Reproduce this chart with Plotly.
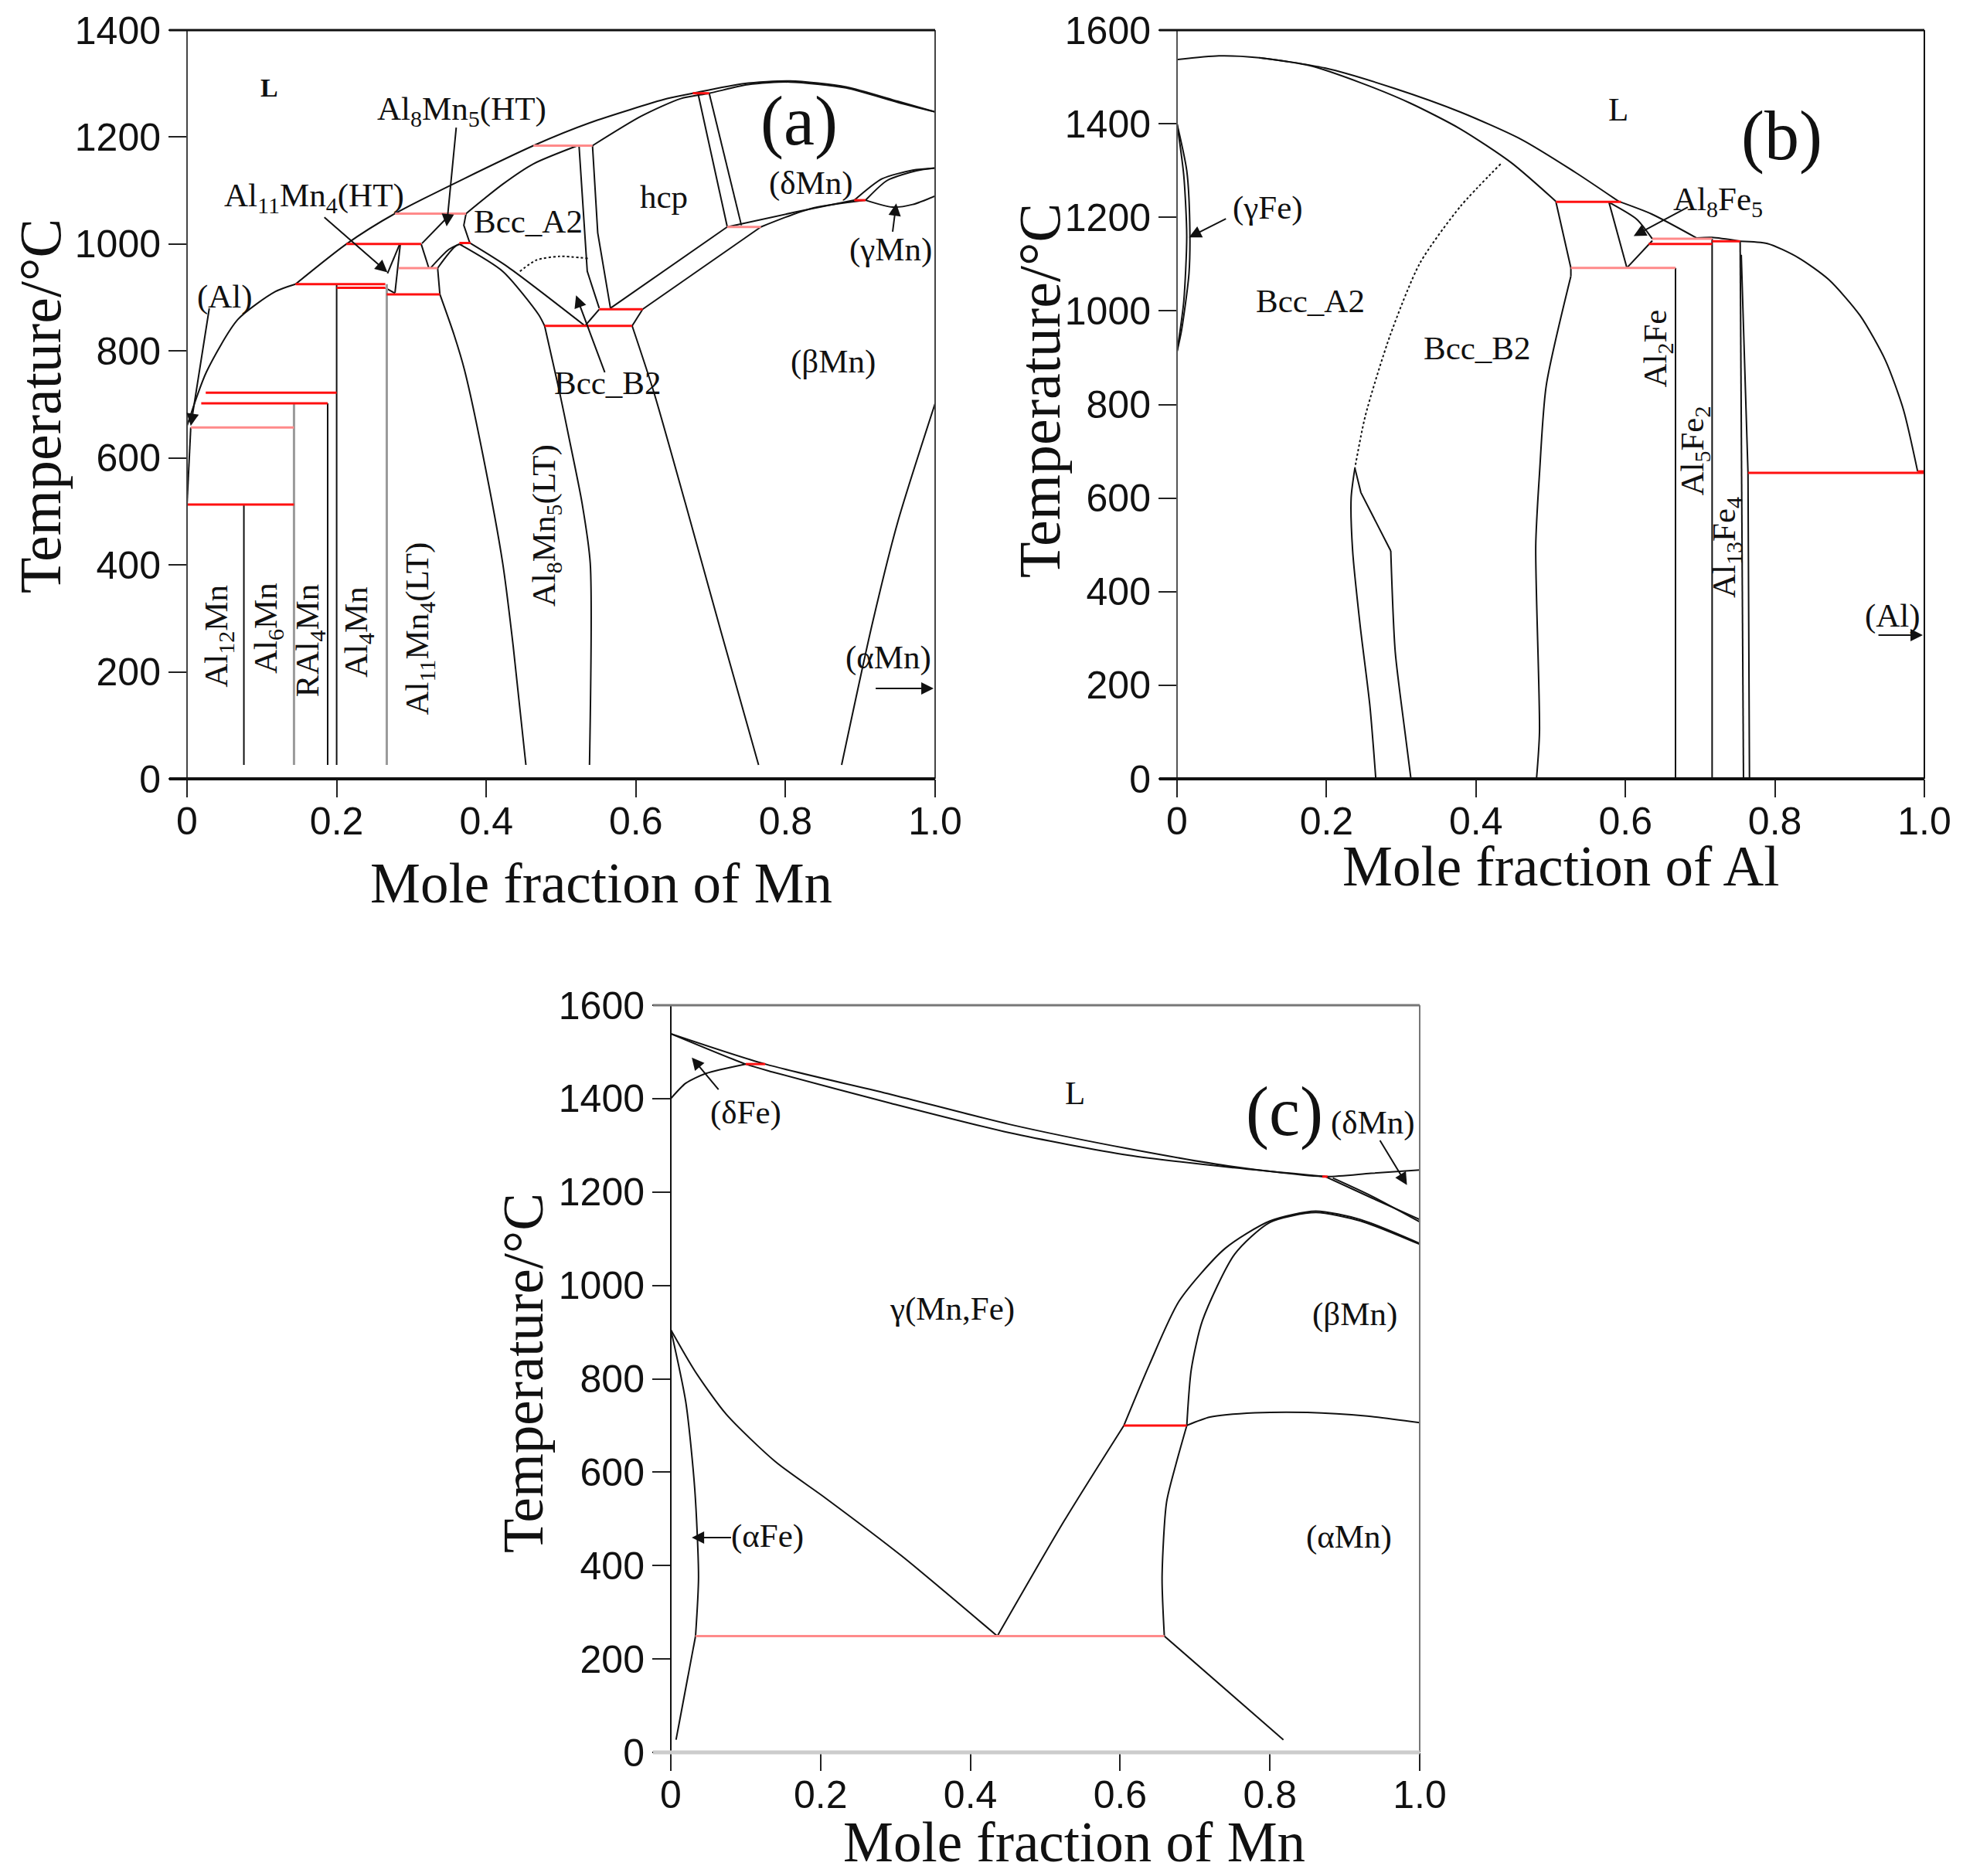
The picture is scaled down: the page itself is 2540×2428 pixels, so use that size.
import plotly.graph_objects as go

BLACK = '#111111'
GREY = '#9a9a9a'
RED = '#ff1010'
PINK = '#ff8a8a'
SERIF = 'Liberation Serif'
SANS = 'Liberation Sans'

x_ticks = [0, 0.2, 0.4, 0.6, 0.8, 1.0]
x_labels = ['0', '0.2', '0.4', '0.6', '0.8', '1.0']

# ---- panel (a) Al-Mn, each curve is x list then T list
a_liq_left = ([0, .026, .068, .118, .145], [660, 761, 859, 911, 925])
a_liq_main = ([.145, .213, .278, .463, .539, .642, .676, .744, .806, .881, .95, 1], [925, 1000, 1057, 1184, 1227, 1272, 1282, 1300, 1305, 1294, 1267, 1247])
a_sol_a2 = ([.373, .422, .463, .522], [1057, 1112, 1150, 1184])
a_sol_hcp = ([.542, .607, .66, .698, .75, .806, .881, .95, 1], [1184, 1239, 1272, 1282, 1298, 1303, 1292, 1265, 1247])
a_hcp_l = ([.524, .535, .551], [1184, 949, 880])
a_hcp_r = ([.542, .549, .566], [1184, 1021, 880])
a_b2_l = ([.551, .532], [878, 847])
a_b2_r = ([.609, .595], [878, 847])
a_band_l = ([.566, .722], [880, 1032])
a_band_r = ([.609, .767], [878, 1032])
a_delta_l = ([.722, .814, .892], [1032, 1060, 1082])
a_delta_r = ([.767, .833, .907], [1032, 1066, 1082])
a_hcp2_l = ([.683, .722], [1282, 1033])
a_hcp2_r = ([.698, .741], [1282, 1035])
a_gam_1 = ([.892, .929, .97, 1], [1082, 1122, 1138, 1142])
a_gam_2 = ([.907, .936, .975, 1], [1082, 1119, 1137, 1142])
a_gam_3 = ([.907, .943, .97, 1], [1082, 1069, 1074, 1090])
a_a2_edge = ([.373, .37, .378], [1057, 1035, 1002])
a_diag_1 = ([.378, .429, .532], [1002, 957, 847])
a_diag_2 = ([.364, .422, .47, .478], [1000, 949, 868, 847])
a_low_1 = ([.338, .357, .371, .395, .422, .436, .453], [906, 830, 764, 609, 403, 248, 26])
a_low_2 = ([.478, .498, .511, .528, .539, .538], [847, 723, 635, 516, 403, 26])
a_low_3 = ([.595, .624, .666, .714, .764], [847, 723, 516, 274, 26])
a_alpha = ([.875, .916, .95, 1], [26, 290, 480, 702])
a_s1 = ([.313, .323], [1000, 956])
a_s2 = ([.335, .338], [955, 906])
a_s3 = ([.326, .35, .364], [956, 990, 1000])
a_s4 = ([.335, .36, .379], [955, 997, 1003])
a_s5 = ([.314, .348], [1001, 1050])
a_s6 = ([.285, .278], [999, 909])
a_s7 = ([.284, .268], [999, 945])
a_s8 = ([.265, .278], [918, 908])
a_al_edge = ([0, .005], [513, 657])
a_dots = ([.445, .467, .498, .536], [949, 970, 977, 973])
a_straight = [a_hcp_l, a_hcp_r, a_b2_l, a_b2_r, a_band_l, a_band_r, a_hcp2_l, a_hcp2_r, a_a2_edge, a_s1, a_s2, a_s5, a_s6, a_s7, a_s8, a_al_edge]
a_smooth = [a_liq_left, a_liq_main, a_sol_a2, a_sol_hcp, a_delta_l, a_delta_r, a_gam_1, a_gam_2, a_gam_3, a_diag_1, a_diag_2,
            a_low_1, a_low_2, a_low_3, a_alpha, a_s3, a_s4]
# compounds: x, top T, bottom T
a_black_x = [.076, .188, .2]
a_black_top = [513, 702, 925]
a_black_low = [26, 26, 26]
a_grey_x = [.143, .267]
a_grey_top = [702, 925]
a_grey_low = [26, 26]
# invariant lines: x from, x to, T
a_red_from = [.145, .2, .213, .267, .478, .551, .364, .676, .892, .025, .019, 0]
a_red_to = [.265, .265, .313, .338, .595, .609, .379, .698, .907, .2, .188, .143]
a_red_t = [925, 918, 1000, 906, 847, 878, 1002, 1282, 1082, 722, 702, 513]
a_pink_from = [.278, .463, .722, .283, .005]
a_pink_to = [.373, .542, .767, .335, .143]
a_pink_t = [1057, 1184, 1032, 955, 657]

# ---- panel (b) Fe-Al
b_liq_1 = ([0, .056, .11, .198, .292, .379, .46, .534, .591], [1537, 1545, 1541, 1519, 1475, 1425, 1367, 1295, 1234])
b_liq_2 = ([.591, .635, .695], [1234, 1207, 1156])
b_liq_3 = ([.695, .716, .7535], [1156, 1157, 1149])
b_liq_4 = ([.7535, .79, .831, .872, .914, .948, .972, .991], [1149, 1144, 1114, 1067, 990, 894, 789, 657])
b_sol = ([.11, .178, .245, .312, .379, .447, .507], [1541, 1524, 1488, 1444, 1389, 1317, 1234])
b_b2_1 = ([.507, .527, .527], [1233, 1092, 1074])
b_b2_2 = ([.527, .494, .485, .48, .485, .481], [1074, 840, 652, 498, 100, 0])
b_fe5_1 = ([.578, .602], [1232, 1092])
b_fe5_2 = ([.602, .636], [1092, 1150])
b_fe5_3 = ([.578, .615, .636], [1232, 1196, 1154])
b_loop_l = ([.238, .233, .235, .245, .258, .266], [664, 601, 487, 328, 157, 0])
b_loop_r1 = ([.238, .246, .286], [664, 612, 487])
b_loop_r2 = ([.286, .292, .305, .313], [487, 271, 100, 0])
b_gam_o = ([0, .013, .017, .016, .006, 0], [1400, 1300, 1190, 1080, 958, 913])
b_gam_i = ([0, .009, .013, .009, 0], [1400, 1290, 1160, 1020, 913])
b_fe4_l = ([.7535, .758], [1149, 0])
b_fe4_r = ([.755, .764, .766], [1120, 654, 0])
b_straight = [b_b2_1, b_fe5_1, b_fe5_2, b_loop_r1, b_fe4_l, b_fe4_r]
b_smooth = [b_liq_1, b_liq_2, b_liq_3, b_liq_4, b_sol, b_b2_2, b_fe5_3, b_loop_l, b_loop_r2, b_gam_o, b_gam_i]
b_dots = ([.433, .379, .325, .285, .252, .238], [1314, 1223, 1102, 947, 776, 664])
b_black_x = [.667, .716]
b_black_top = [1092, 1154]
b_black_low = [0, 0]
b_red_from = [.507, .631, .716, .764, .991]
b_red_to = [.594, .716, .7535, 1, 1]
b_red_t = [1233, 1143, 1149, 654, 657]
b_pink_from = [.527, .636]
b_pink_to = [.667, .716]
b_pink_t = [1092, 1154]

# ---- panel (c) Fe-Mn
c_liq = ([0, .126, .294, .452, .61, .752, .874, .935, 1], [1539, 1474, 1409, 1345, 1293, 1254, 1233, 1240, 1247])
c_sol = ([0, .1, .136, .294, .452, .61, .752, .874], [1539, 1474, 1457, 1390, 1327, 1279, 1252, 1233])
c_dfe = ([0, .02, .047, .1], [1400, 1433, 1454, 1474])
c_dmn_1 = ([.874, .935, 1], [1233, 1188, 1141])
c_dmn_2 = ([.884, .935, 1], [1230, 1192, 1136])
c_beta_o = ([.605, .639, .679, .74, .8, .861, .921, 1], [700, 830, 967, 1079, 1138, 1159, 1141, 1090])
c_beta_i = ([.689, .695, .71, .753, .8, .861, .921, 1], [700, 820, 925, 1067, 1135, 1156, 1138, 1088])
c_amn_top = ([.689, .72, .78, .85, .93, 1], [700, 718, 727, 728, 720, 706])
c_amn_l = ([.689, .675, .662, .656, .659], [700, 620, 536, 375, 249])
c_amn_low = ([.659, .818], [249, 27])
c_ga_1 = ([0, .032, .074, .14, .207, .308, .436], [905, 817, 724, 622, 544, 421, 249])
c_ga_2 = ([.436, .525, .605], [249, 495, 700])
c_afe_1 = ([0, .02, .032, .037, .033], [905, 750, 563, 375, 249])
c_afe_2 = ([.033, .007], [249, 27])
c_straight = [c_amn_low, c_afe_2]
c_smooth = [c_liq, c_sol, c_dfe, c_dmn_1, c_dmn_2, c_beta_o, c_beta_i, c_amn_top, c_amn_l, c_ga_1, c_ga_2, c_afe_1]
c_red_from = [.1, .605, .87]
c_red_to = [.126, .689, .877]
c_red_t = [1474, 700, 1233]
c_pink_from = [.033]
c_pink_to = [.659]
c_pink_t = [249]

# text labels: text, x, T, size, angle
a_labels = [('<b>L</b>', .11, 1292, 34, 0), ('Al<sub>8</sub>Mn<sub>5</sub>(HT)', .367, 1248, 43, 0), ('Al<sub>11</sub>Mn<sub>4</sub>(HT)', .17, 1086, 43, 0),
            ('(Al)', .051, 901, 43, 0), ('Bcc_A2', .456, 1042, 43, 0), ('hcp', .637, 1089, 43, 0), ('(a)', .818, 1229, 90, 0),
            ('(δMn)', .834, 1114, 43, 0), ('(γMn)', .941, 990, 43, 0), ('(βMn)', .864, 780, 43, 0), ('Bcc_B2', .562, 740, 43, 0),
            ('(αMn)', .938, 227, 43, 0), ('Al<sub>12</sub>Mn', .043, 267, 43, -90), ('Al<sub>6</sub>Mn', .108, 281, 43, -90),
            ('RAl<sub>4</sub>Mn', .165, 258, 43, -90), ('Al<sub>4</sub>Mn', .23, 274, 43, -90), ('Al<sub>11</sub>Mn<sub>4</sub>(LT)', .31, 281, 43, -90),
            ('Al<sub>8</sub>Mn<sub>5</sub>(LT)', .48, 473, 43, -90)]
b_labels = [('L', .59, 1431, 43, 0), ('(b)', .809, 1373, 90, 0), ('(γFe)', .122, 1220, 43, 0), ('Al<sub>8</sub>Fe<sub>5</sub>', .724, 1233, 43, 0),
            ('Bcc_A2', .178, 1022, 43, 0), ('Bcc_B2', .402, 920, 43, 0), ('Al<sub>2</sub>Fe', .643, 920, 43, -90),
            ('Al<sub>5</sub>Fe<sub>2</sub>', .693, 701, 43, -90), ('Al<sub>13</sub>Fe<sub>4</sub>', .735, 495, 43, -90), ('(Al)', .958, 348, 43, 0)]
c_labels = [('(δFe)', .1, 1370, 43, 0), ('L', .54, 1412, 43, 0), ('(c)', .819, 1372, 90, 0), ('(δMn)', .938, 1348, 43, 0),
            ('γ(Mn,Fe)', .376, 949, 43, 0), ('(βMn)', .913, 938, 43, 0), ('(αFe)', .129, 464, 43, 0), ('(αMn)', .906, 461, 43, 0)]

# arrows: tail x, tail T, head x, head T
a_arrows = [(.03, 882, .005, 660), (.36, 1220, .347, 1033), (.182, 1052, .268, 947), (.559, 758, .52, 904), (.943, 1021, .948, 1076), (.919, 169, .998, 169)]
b_arrows = [(.067, 1198, .016, 1157), (.685, 1223, .611, 1160), (.937, 307, .998, 307)]
c_arrows = [(.065, 1417, .028, 1488), (.946, 1313, .983, 1215), (.082, 460, .028, 460)]

fig = go.Figure()


def add_curve(curve, ax, color=BLACK, width=2, dash=None, shape='linear'):
    fig.add_trace(go.Scatter(x=curve[0], y=curve[1], mode='lines', xaxis=ax[0], yaxis=ax[1], showlegend=False,
                             line=dict(color=color, width=width, dash=dash, shape=shape, smoothing=0.7)))


def add_hlines(x0, x1, t, ax, color, width=3):
    for a, b, c in zip(x0, x1, t):
        add_curve(([a, b], [c, c]), ax, color, width)


def add_vlines(x, top, low, ax, color, width=2):
    for a, b, c in zip(x, top, low):
        add_curve(([a, a], [b, c]), ax, color, width)


def add_notes(labels, arrows, ax):
    for text, x, t, size, angle in labels:
        fig.add_annotation(x=x, y=t, xref=ax[0], yref=ax[1], text=text, showarrow=False, textangle=angle,
                           xanchor='center', yanchor='middle', font=dict(family=SERIF, size=size, color=BLACK))
    for x0, t0, x1, t1 in arrows:
        fig.add_annotation(x=x1, y=t1, ax=x0, ay=t0, xref=ax[0], yref=ax[1], axref=ax[0], ayref=ax[1], text='',
                           showarrow=True, arrowhead=2, arrowsize=1.6, arrowwidth=2, arrowcolor=BLACK)


# panel frame, each side has its own weight in the scan
def add_frame(ax, left, right, top, bottom):
    xr = ax[0] + ' domain'
    yr = ax[1] + ' domain'
    overhang = -23 / 968
    fig.add_shape(type='line', xref=xr, yref=yr, x0=0, x1=0, y0=0, y1=1, line=dict(color=left[0], width=left[1]), layer='above')
    fig.add_shape(type='line', xref=xr, yref=yr, x0=1, x1=1, y0=0, y1=1, line=dict(color=right[0], width=right[1]), layer='above')
    fig.add_shape(type='line', xref=xr, yref=yr, x0=overhang, x1=1, y0=1, y1=1, line=dict(color=top[0], width=top[1]), layer='above')
    fig.add_shape(type='line', xref=xr, yref=yr, x0=overhang, x1=1, y0=0, y1=0, line=dict(color=bottom[0], width=bottom[1]), layer='above')


ax_a = ('x', 'y')
ax_b = ('x2', 'y2')
ax_c = ('x3', 'y3')

for c in a_straight:
    add_curve(c, ax_a)
for c in a_smooth:
    add_curve(c, ax_a, shape='spline')
add_curve(a_dots, ax_a, BLACK, 2, 'dot', 'spline')
add_vlines(a_black_x, a_black_top, a_black_low, ax_a, BLACK)
add_vlines(a_grey_x, a_grey_top, a_grey_low, ax_a, GREY, 3)
add_hlines(a_pink_from, a_pink_to, a_pink_t, ax_a, PINK)
add_hlines(a_red_from, a_red_to, a_red_t, ax_a, RED)
add_notes(a_labels, a_arrows, ax_a)
add_frame(ax_a, ('#444444', 2), ('#444444', 2), (BLACK, 3), (BLACK, 4))

for c in b_straight:
    add_curve(c, ax_b)
for c in b_smooth:
    add_curve(c, ax_b, shape='spline')
add_curve(b_dots, ax_b, BLACK, 2, 'dot', 'spline')
add_vlines(b_black_x, b_black_top, b_black_low, ax_b, BLACK)
add_hlines(b_pink_from, b_pink_to, b_pink_t, ax_b, PINK)
add_hlines(b_red_from, b_red_to, b_red_t, ax_b, RED)
add_notes(b_labels, b_arrows, ax_b)
add_frame(ax_b, ('#555555', 2), (BLACK, 2), (BLACK, 3), (BLACK, 4))

for c in c_straight:
    add_curve(c, ax_c)
for c in c_smooth:
    add_curve(c, ax_c, shape='spline')
add_hlines(c_pink_from, c_pink_to, c_pink_t, ax_c, PINK)
add_hlines(c_red_from, c_red_to, c_red_t, ax_c, RED)
add_notes(c_labels, c_arrows, ax_c)
add_frame(ax_c, (BLACK, 2), ('#777777', 2), ('#777777', 3), ('#cccccc', 5))


def x_axis(domain, anchor):
    return dict(domain=domain, anchor=anchor, range=[0, 1], tickvals=x_ticks, ticktext=x_labels, ticks='outside', ticklen=23,
                tickwidth=2, tickcolor='#222222', showline=False, showgrid=False, zeroline=False, automargin=False,
                ticklabelstandoff=-12, tickfont=dict(family=SANS, size=50, color=BLACK))


def y_axis(domain, anchor, top):
    return dict(domain=domain, anchor=anchor, range=[0, top], dtick=200, ticks='outside', ticklen=23, automargin=False,
                tickwidth=2, tickcolor='#222222', showline=False, showgrid=False, zeroline=False,
                tickfont=dict(family=SANS, size=50, color=BLACK))


W, H = 2540, 2428
fig.update_layout(
    width=W, height=H, margin=dict(l=0, r=0, t=0, b=0, autoexpand=False), plot_bgcolor='white', paper_bgcolor='white', showlegend=False,
    xaxis=x_axis([242 / W, 1210 / W], 'y'),
    yaxis=y_axis([1 - 1008 / H, 1 - 39 / H], 'x', 1400),
    xaxis2=x_axis([1523 / W, 2490 / W], 'y2'),
    yaxis2=y_axis([1 - 1008 / H, 1 - 39 / H], 'x2', 1600),
    xaxis3=x_axis([868 / W, 1837 / W], 'y3'),
    yaxis3=y_axis([1 - 2268 / H, 1 - 1301 / H], 'x3', 1600),
)

# axis titles sit at fixed places on the page
x_titles = ['Mole fraction of Mn', 'Mole fraction of Al', 'Mole fraction of Mn']
x_title_cx = [778, 2020, 1390]
x_title_cy = [1144, 1121, 2384]
y_title_cx = [52, 1345, 677]
y_title_cy = [526, 505, 1777]
y_title_size = [76, 76, 73]
for text, cx, cy in zip(x_titles, x_title_cx, x_title_cy):
    fig.add_annotation(xref='paper', yref='paper', x=cx / W, y=1 - cy / H, text=text, showarrow=False,
                       xanchor='center', yanchor='middle', font=dict(family=SERIF, size=73, color=BLACK))
for cx, cy, size in zip(y_title_cx, y_title_cy, y_title_size):
    fig.add_annotation(xref='paper', yref='paper', x=cx / W, y=1 - cy / H, text='Temperature/°C', showarrow=False, textangle=-90,
                       xanchor='center', yanchor='middle', font=dict(family=SERIF, size=size, color=BLACK))

fig.write_html("out.html", config={'displayModeBar': False}, post_script="document.body.style.margin='0';")
